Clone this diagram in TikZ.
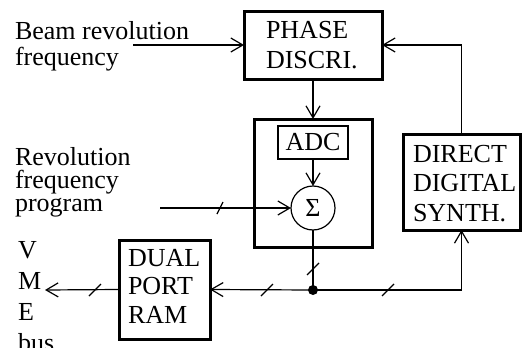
\documentclass[tikz,border=0pt]{standalone}
\usepackage{fontspec}
\setmainfont{Liberation Serif}
\usetikzlibrary{arrows.meta}
\newcommand\mylines[2]{\vtop{\baselineskip=#1pt\lineskiplimit=-100pt\lineskip=0pt #2}}
\tikzset{
  thinline/.style={line width=1.2pt},
  arr/.style={thinline,-{Straight Barb[length=12pt,width=14pt,line width=1.2pt]}},
  bigbox/.style={draw, rectangle, line width=3pt, inner sep=0pt, outer sep=0pt},
  smallbox/.style={draw, rectangle, line width=1.5pt, inner sep=0pt, outer sep=0pt},
  txt/.style={anchor=base west, inner sep=0pt, outer sep=0pt, font=\fontsize{26}{30}\selectfont},
  busmark/.style={thinline},
}
\begin{document}
\begin{tikzpicture}[x=1pt,y=-1pt]
\useasboundingbox (0,0) rectangle (522,348);
% boxes
\node[bigbox, minimum width=138pt, minimum height=68pt] (phase) at (313,45) {};
\node[bigbox, minimum width=118pt, minimum height=128pt] (main) at (313,183) {};
\node[smallbox, minimum width=70pt, minimum height=33pt, font=\fontsize{26}{30}\selectfont] (adc) at (313,142.5) {ADC};
\node[draw, circle, thinline, minimum size=44pt, inner sep=0pt, outer sep=0pt, font=\fontsize{26}{30}\selectfont] (sum) at (313,208) {Σ};
\node[bigbox, minimum width=117pt, minimum height=96pt] (dds) at (461.5,182) {};
\node[bigbox, minimum width=91pt, minimum height=99pt] (ram) at (164.5,289.5) {};
\node[circle, fill, inner sep=0pt, minimum size=10pt] (junc) at (313,290) {};
% texts
\node[txt] (tbeam) at (15,39) {\mylines{26.5}{\hbox{Beam revolution}\hbox{frequency}}};
\node[txt] (tprog) at (15,165) {\mylines{23}{\hbox{Revolution}\hbox{frequency}\hbox{program}}};
\node[txt] (tphase) at (266,38) {\mylines{30}{\hbox{PHASE}\hbox{DISCRI.}}};
\node[txt] (tdds) at (413,162) {\mylines{29.5}{\hbox{DIRECT}\hbox{DIGITAL}\hbox{SYNTH.}}};
\node[txt] (tram) at (128,266) {\mylines{28.5}{\hbox{DUAL}\hbox{PORT}\hbox{RAM}}};
\node[txt] (tvme) at (18,258) {\mylines{31}{\hbox{V}\hbox{M}\hbox{E}\hbox{bus}}};
% free ends
\coordinate (beamin) at (133,45);
\coordinate (progin) at (160,208);
\coordinate (vme) at (45,290);
% connectors
\draw[arr] (beamin) -- (phase.west);
\draw[arr] (dds.north) |- (phase.east);
\draw[arr] (phase.south) -- (main.north);
\draw[arr] (adc.south) -- (sum.north);
\draw[arr] (progin) -- (sum.west);
\draw[thinline] (sum.south) -- (junc.center);
\draw[arr] (junc.center) -- (ram.east);
\draw[arr] (junc.center) -| (dds.south);
\draw[arr] (ram.west) -- (vme);
% bus width marks
\draw[busmark] (217,214) -- (223,202);
\draw[busmark] (307,275) -- (319,263);
\draw[busmark] (261,296) -- (273,284);
\draw[busmark] (382,296) -- (394,284);
\draw[busmark] (89,296) -- (101,284);
\end{tikzpicture}
\end{document}
